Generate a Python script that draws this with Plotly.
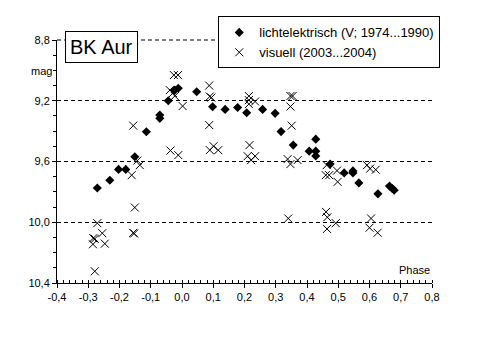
import plotly.graph_objects as go

# lichtelektrisch (V; 1974...1990)
pe_phase = [-0.271, -0.231, -0.203, -0.180, -0.151, -0.114, -0.071, -0.071, -0.044, -0.023,
            -0.012, 0.047, 0.098, 0.138, 0.178, 0.207, 0.258, 0.298, 0.317, 0.356,
            0.407, 0.428, 0.428, 0.428, 0.474, 0.519, 0.547, 0.547, 0.566, 0.627,
            0.664, 0.673, 0.679]
pe_mag = [9.774, 9.723, 9.652, 9.652, 9.569, 9.404, 9.294, 9.316, 9.200, 9.130,
          9.118, 9.141, 9.240, 9.257, 9.244, 9.279, 9.257, 9.283, 9.403, 9.492,
          9.532, 9.453, 9.532, 9.563, 9.617, 9.675, 9.662, 9.675, 9.741, 9.813,
          9.762, 9.778, 9.789]

# visuell (2003...2004)
vis_phase = [-0.026, -0.013, -0.039, -0.029, -0.023, 0.002, -0.156, -0.037, -0.012, -0.143,
             -0.135, -0.161, -0.151, -0.156, -0.153, -0.271, -0.255, -0.284, -0.279, -0.285,
             -0.247, -0.279, 0.087, 0.089, 0.094, 0.087, 0.101, 0.089, 0.116, 0.214,
             0.214, 0.234, 0.214, 0.216, 0.210, 0.234, 0.221, 0.347, 0.354, 0.347,
             0.351, 0.338, 0.347, 0.370, 0.340, 0.463, 0.460, 0.471, 0.496, 0.498,
             0.592, 0.602, 0.620, 0.461, 0.465, 0.464, 0.492, 0.605, 0.600, 0.626]
vis_mag = [9.031, 9.031, 9.130, 9.149, 9.169, 9.235, 9.364, 9.528, 9.558, 9.594,
           9.624, 9.690, 9.903, 10.070, 10.074, 10.006, 10.072, 10.105, 10.109, 10.145,
           10.141, 10.323, 9.100, 9.172, 9.179, 9.360, 9.499, 9.525, 9.525, 9.169,
           9.196, 9.205, 9.222, 9.492, 9.565, 9.565, 9.591, 9.169, 9.169, 9.238,
           9.364, 9.584, 9.617, 9.591, 9.975, 9.624, 9.690, 9.690, 9.660, 9.734,
           9.624, 9.647, 9.654, 9.932, 9.967, 10.044, 10.006, 9.975, 10.036, 10.069]

x_tickvals = [-0.4, -0.3, -0.2, -0.1, 0.0, 0.1, 0.2, 0.3, 0.4, 0.5, 0.6, 0.7, 0.8]
x_ticktext = ["-0,4", "-0,3", "-0,2", "-0,1", "0,0", "0,1", "0,2", "0,3", "0,4", "0,5", "0,6", "0,7", "0,8"]
y_tickvals = [8.8, 9.2, 9.6, 10.0, 10.4]
y_ticktext = ["8,8", "9,2", "9,6", "10,0", "10,4"]

FONT = "Liberation Sans, Arial, sans-serif"

fig = go.Figure()
fig.add_trace(go.Scatter(
    x=pe_phase, y=pe_mag, mode="markers", name="lichtelektrisch (V; 1974...1990)",
    marker=dict(symbol="diamond", size=7, color="black", line=dict(width=0))))
fig.add_trace(go.Scatter(
    x=vis_phase, y=vis_mag, mode="markers", name="visuell (2003...2004)",
    marker=dict(symbol="x-thin-open", size=8, color="black", line=dict(width=1, color="black"))))

# dashed grid line along the top edge of the plot (8,8), drawn unclipped
fig.add_shape(type="line", xref="paper", yref="paper", x0=0, x1=1, y0=1, y1=1,
              line=dict(color="black", width=1, dash="4px,3px"), layer="below")

fig.update_layout(
    width=485, height=344,
    margin=dict(l=57, r=53, t=40, b=61),
    paper_bgcolor="white", plot_bgcolor="white",
    font=dict(family=FONT, size=11, color="black"),
    showlegend=True,
    legend=dict(x=1.022, y=0.99, xanchor="right", yanchor="middle",
                bordercolor="black", borderwidth=1, bgcolor="white",
                font=dict(family=FONT, size=13, color="black"),
                tracegroupgap=0, itemwidth=30),
    xaxis=dict(range=[-0.4, 0.8], tickvals=x_tickvals, ticktext=x_ticktext,
               showline=True, linecolor="black", linewidth=1, showgrid=False, zeroline=False,
               ticks="outside", ticklen=4, tickcolor="black",
               minor=dict(dtick=0.02, ticks="inside", ticklen=3, tickcolor="black", showgrid=False)),
    yaxis=dict(range=[10.4, 8.8], tickvals=y_tickvals, ticktext=y_ticktext,
               showline=True, linecolor="black", linewidth=1, zeroline=False,
               showgrid=True, gridcolor="black", gridwidth=1, griddash="4px,3px",
               ticks="outside", ticklen=4, tickcolor="black",
               minor=dict(dtick=0.1, ticks="outside", ticklen=3, tickcolor="black", showgrid=False)),
    annotations=[
        dict(text="BK Aur", x=0.119, y=0.973, xref="paper", yref="paper",
             xanchor="center", yanchor="middle", showarrow=False,
             font=dict(family=FONT, size=20, color="black"),
             bordercolor="black", borderwidth=1, borderpad=4, bgcolor="white"),
        dict(text="Phase", x=1.0, y=0.0535, xref="paper", yref="paper",
             xanchor="right", yanchor="middle", showarrow=False,
             font=dict(family=FONT, size=11, color="black")),
        dict(text="mag", x=-0.009, y=0.872, xref="paper", yref="paper",
             xanchor="right", yanchor="middle", showarrow=False,
             font=dict(family=FONT, size=11, color="black")),
    ],
)

fig.write_html("out.html")
